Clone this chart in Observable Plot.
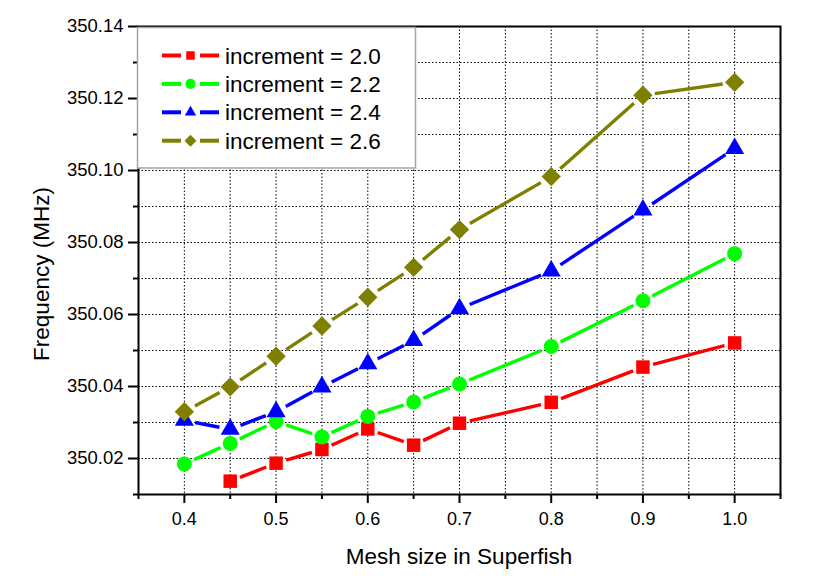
<!DOCTYPE html>
<html>
<head>
<meta charset="utf-8">
<script src="https://cdn.jsdelivr.net/npm/d3@7"></script>
<script src="https://cdn.jsdelivr.net/npm/@observablehq/plot@0.6"></script>
<style>
  html, body { margin: 0; padding: 0; background: white; }
  #chart { width: 818px; height: 583px; }
</style>
</head>
<body>
<div id="chart"></div>
<script>
// ---- data ----
const meshSize = [0.4, 0.45, 0.5, 0.55, 0.6, 0.65, 0.7, 0.8, 0.9, 1.0];
const inc20 = [null, 350.0137, 350.0187, 350.0225, 350.0282, 350.0237, 350.0298, 350.0356, 350.0454, 350.0521];
const inc22 = [350.0185, 350.0242, 350.0303, 350.0260, 350.0317, 350.0357, 350.0407, 350.0511, 350.0638, 350.0769];
const inc24 = [350.0306, 350.0281, 350.0330, 350.0399, 350.0463, 350.0528, 350.0616, 350.0721, 350.0890, 350.1061];
const inc26 = [350.0330, 350.0399, 350.0484, 350.0568, 350.0648, 350.0731, 350.0836, 350.0983, 350.1209, 350.1245];

const seriesNames = ["increment = 2.0", "increment = 2.2", "increment = 2.4", "increment = 2.6"];
const seriesValues = [inc20, inc22, inc24, inc26];

const xMajorTicks = [0.4, 0.5, 0.6, 0.7, 0.8, 0.9, 1.0];
const xMinorTicks = [0.35, 0.45, 0.55, 0.65, 0.75, 0.85, 0.95, 1.05];
const xGrid = [0.4, 0.45, 0.5, 0.55, 0.6, 0.65, 0.7, 0.75, 0.8, 0.85, 0.9, 0.95, 1.0];
const yMajorTicks = [350.02, 350.04, 350.06, 350.08, 350.10, 350.12, 350.14];
const yMinorTicks = [350.01, 350.03, 350.05, 350.07, 350.09, 350.11, 350.13];
const yGrid = [350.02, 350.03, 350.04, 350.05, 350.06, 350.07, 350.08, 350.09, 350.10, 350.11, 350.12, 350.13];

const xTitle = "Mesh size in Superfish";
const yTitle = "Frequency (MHz)";

// ---- styles ----
const colors = ["#ff0000", "#00ff00", "#0000ff", "#808000"];
const symbols = ["square", "circle", "triangle", "diamond2"];
const d3symbols = [d3.symbolSquare, d3.symbolCircle, d3.symbolTriangle, d3.symbolDiamond2];
const radii = [7.6, 7.5, 7.1, 8.7];
const gaps = [10.5, 10.5, 11, 12];
const legendSizes = [72, 80, 56, 92];

const series = seriesNames.map((name, i) => ({
  name,
  color: colors[i],
  data: meshSize.map((x, j) => ({x, y: seriesValues[i][j]})).filter(d => d.y != null)
}));

// curve that leaves a gap around each point (like Origin's line+symbol)
function gapCurve(gap) {
  return (context) => {
    let pts = [];
    return {
      areaStart() {}, areaEnd() {},
      lineStart() { pts = []; },
      point(x, y) { pts.push([+x, +y]); },
      lineEnd() {
        for (let i = 0; i < pts.length - 1; i++) {
          const [x0, y0] = pts[i], [x1, y1] = pts[i + 1];
          const dx = x1 - x0, dy = y1 - y0, L = Math.hypot(dx, dy);
          if (L <= 2 * gap) continue;
          const ux = dx / L, uy = dy / L;
          context.moveTo(x0 + ux * gap, y0 + uy * gap);
          context.lineTo(x1 - ux * gap, y1 - uy * gap);
        }
      }
    };
  };
}

const font = "'Liberation Sans', Arial, Helvetica, sans-serif";
const dotted = {stroke: "black", strokeOpacity: 1, strokeWidth: 1, strokeDasharray: "1.5,2"};

const marks = [
  Plot.gridX(xGrid, dotted),
  Plot.gridY(yGrid, dotted),
];
series.forEach((s, i) => {
  marks.push(Plot.line(s.data, {x: "x", y: "y", stroke: s.color, strokeWidth: 3.4, strokeLinecap: "butt", curve: gapCurve(gaps[i])}));
  marks.push(Plot.dot(s.data, {x: "x", y: "y", symbol: symbols[i], fill: s.color, stroke: "none", r: radii[i]}));
});
marks.push(
  Plot.frame({stroke: "black", strokeWidth: 2}),
  Plot.axisY({ticks: yMajorTicks, tickSize: 10, tickPadding: 5, tickFormat: d => d.toFixed(2), fontSize: 18.5, strokeWidth: 2, label: null}),
  Plot.axisY({ticks: yMinorTicks, tickSize: 5, tickFormat: () => "", strokeWidth: 2, label: null}),
  Plot.axisX({ticks: xMajorTicks, tickSize: 9, tickPadding: 9, tickFormat: d => d.toFixed(1), fontSize: 18, strokeWidth: 2, label: null}),
  Plot.axisX({ticks: xMinorTicks, tickSize: 5, tickFormat: () => "", strokeWidth: 2, label: null})
);

const margin = {left: 138, right: 38, top: 26, bottom: 89};
const W = 818, H = 583;
const plot = Plot.plot({
  width: W,
  height: H,
  marginLeft: margin.left,
  marginRight: margin.right,
  marginTop: margin.top,
  marginBottom: margin.bottom,
  x: {domain: [0.35, 1.05]},
  y: {domain: [350.01, 350.14]},
  style: {fontFamily: font, fontSize: "17px", color: "black", background: "white"},
  marks
});

const svg = d3.select(plot);

// ---- axis titles ----
const frameCx = (margin.left + W - margin.right) / 2;
svg.append("text")
  .attr("x", frameCx).attr("y", 564)
  .attr("text-anchor", "middle")
  .attr("font-family", font).attr("font-size", 22.5).attr("fill", "black")
  .text(xTitle);
svg.append("text")
  .attr("transform", `translate(49,274) rotate(-90)`)
  .attr("text-anchor", "middle")
  .attr("font-family", font).attr("font-size", 22.5).attr("fill", "black")
  .text(yTitle);

// ---- legend box inside the plot area (top-left) ----
const lg = svg.append("g").attr("transform", `translate(${margin.left - 1},${margin.top + 1})`);
lg.append("rect")
  .attr("x", 0.5).attr("y", 0.5).attr("width", 278).attr("height", 140.5)
  .attr("fill", "white").attr("stroke", "#a6a6a6").attr("stroke-width", 1.5);
const rowH = 28.4, row0 = 28.5;
const rows = lg.selectAll("g.row").data(series).join("g")
  .attr("transform", (d, i) => `translate(0,${row0 + i * rowH})`);
rows.append("line").attr("x1", 25).attr("x2", 44).attr("y1", 0).attr("y2", 0)
  .attr("stroke", d => d.color).attr("stroke-width", 4);
rows.append("line").attr("x1", 63).attr("x2", 82).attr("y1", 0).attr("y2", 0)
  .attr("stroke", d => d.color).attr("stroke-width", 4);
rows.append("path")
  .attr("transform", "translate(53.5,0)")
  .attr("d", (d, i) => d3.symbol().type(d3symbols[i]).size(legendSizes[i])())
  .attr("fill", d => d.color);
rows.append("text").attr("x", 88).attr("y", 0).attr("dy", "0.36em")
  .attr("text-anchor", "start")
  .attr("font-family", font).attr("font-size", 22.5).attr("fill", "black")
  .text(d => d.name);

document.getElementById("chart").appendChild(plot);
</script>
</body>
</html>
